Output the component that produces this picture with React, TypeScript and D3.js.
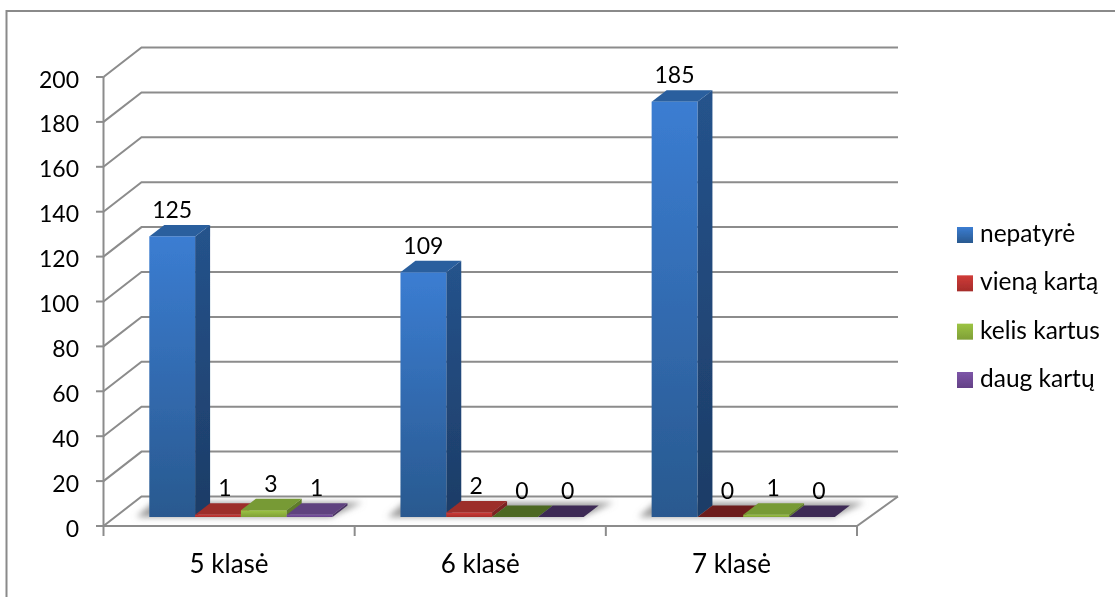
import * as d3 from "d3";

const categories = ["5 klasė", "6 klasė", "7 klasė"];
const seriesNames = ["nepatyrė", "vieną kartą", "kelis kartus", "daug kartų"];
const nepatyre = [125, 109, 185];
const vienaKarta = [1, 2, 0];
const kelisKartus = [3, 0, 1];
const daugKartu = [1, 0, 0];
const seriesValues = [nepatyre, vienaKarta, kelisKartus, daugKartu];
const yTicks = [0, 20, 40, 60, 80, 100, 120, 140, 160, 180, 200];

// front, bottom of front, top face, side face, top face when the value is 0
const palette = [
  { hi: "#3b7dd2", lo: "#29598f", top: "#2a5f9e", sideHi: "#25538c", sideLo: "#1d3c66", flat: "#2a5f9e" },
  { hi: "#d03c38", lo: "#a52c2a", top: "#9c2d2a", sideHi: "#7c2320", sideLo: "#7c2320", flat: "#6d1f1c" },
  { hi: "#9cc444", lo: "#7f9f36", top: "#779a34", sideHi: "#5f7c2a", sideLo: "#5f7c2a", flat: "#4d6824" },
  { hi: "#7d55a8", lo: "#644186", top: "#5f427f", sideHi: "#4a3364", sideLo: "#4a3364", flat: "#3c2a55" },
];

const FONT = "Lato, 'Open Sans', sans-serif";
const DX = 38;
const DY = 29.5;
const BAR_DX = 15;
const BAR_DY = 11.5;

export default function App() {
  const y = d3.scaleLinear().domain([0, 200]).range([526, 77]);
  const x = d3.scaleBand().domain(categories).range([103.5, 857]);
  const inner = d3.scaleBand().domain(seriesNames).range([45.8, 229]);
  // bars stand a little behind the front edge of the floor
  const barBase = y(0) - 9;
  const h = (v: number) => y(0) - y(v);

  const poly = (pts: [number, number][]) => d3.line()(pts) + "Z";

  return (
    <svg width={1115} height={597} style={{ position: "fixed", left: 0, top: 0, background: "#fff" }} fontFamily={FONT}>
      <defs>
        <filter id="soft" x="-5%" y="-5%" width="110%" height="110%">
          <feGaussianBlur stdDeviation="0.45" />
        </filter>
        <filter id="shadow" x="-10%" y="-60%" width="120%" height="220%">
          <feGaussianBlur stdDeviation="3" />
        </filter>
        {palette.map((p, i) => (
          <g key={i}>
            <linearGradient id={`front${i}`} x1="0" x2="0" y1="0" y2="1">
              <stop offset="0" stopColor={p.hi} />
              <stop offset="1" stopColor={p.lo} />
            </linearGradient>
            <linearGradient id={`side${i}`} x1="0" x2="0" y1="0" y2="1">
              <stop offset="0" stopColor={p.sideHi} />
              <stop offset="1" stopColor={p.sideLo} />
            </linearGradient>
            <linearGradient id={`key${i}`} x1="0" x2="0" y1="0" y2="1">
              <stop offset="0" stopColor={p.hi} />
              <stop offset="1" stopColor={p.lo} />
            </linearGradient>
          </g>
        ))}
      </defs>

      {/* outer frame: only the left and top edges fall inside the picture */}
      <path d="M6.5,597V11H1115" fill="none" stroke="#8a8a8a" strokeWidth={2} />

      <g filter="url(#soft)">
        {/* walls */}
        <g stroke="#8c8c8c" strokeWidth={2} fill="none">
          {yTicks.map((t) => (
            <path
              key={t}
              d={d3.line()([
                [103.5, y(t)],
                [103.5 + DX, y(t) - DY],
                [898, y(t) - DY],
              ]) as string}
            />
          ))}
          <path d={`M103.5,${y(200)}V${y(0)}H857L898,${y(0) - DY}`} />
          {yTicks.map((t) => (
            <path key={t} d={`M96,${y(t)}H103.5`} />
          ))}
          {[...categories.map((c) => x(c) as number), 857].map((v) => (
            <path key={v} d={`M${v},${y(0)}V536`} />
          ))}
        </g>

        {/* floor shadow */}
        {categories.map((c) => {
          const x0 = (x(c) as number) + inner.range()[0];
          const x1 = x0 + inner.step() * 4;
          return (
            <path
              key={c}
              filter="url(#shadow)"
              fill="#9a9a9a"
              d={poly([
                [x0 - 13, barBase],
                [x1 - 2, barBase],
                [x1 + BAR_DX + 15, barBase - BAR_DY - 3],
                [x0 + 4, barBase - BAR_DY - 3],
              ])}
            />
          );
        })}

        {/* bars */}
        {categories.map((c, ci) =>
          seriesNames.map((s, si) => {
            const v = seriesValues[si][ci];
            const bx = (x(c) as number) + (inner(s) as number);
            const w = inner.bandwidth();
            const top = barBase - h(v);
            const p = palette[si];
            return (
              <g key={s}>
                <path
                  fill={`url(#side${si})`}
                  d={poly([
                    [bx + w, top],
                    [bx + w + BAR_DX, top - BAR_DY],
                    [bx + w + BAR_DX, barBase - BAR_DY],
                    [bx + w, barBase],
                  ])}
                />
                <path
                  fill={v === 0 ? p.flat : p.top}
                  d={poly([
                    [bx, top],
                    [bx + BAR_DX, top - BAR_DY],
                    [bx + w + BAR_DX, top - BAR_DY],
                    [bx + w, top],
                  ])}
                />
                {v > 0 && <rect x={bx} y={top} width={w} height={barBase - top} fill={`url(#front${si})`} />}
              </g>
            );
          })
        )}

        {/* value labels */}
        <g fontSize={23} fill="#000" textAnchor="middle">
          {categories.map((c, ci) =>
            seriesNames.map((s, si) => {
              const v = seriesValues[si][ci];
              const bx = (x(c) as number) + (inner(s) as number) + inner.bandwidth() / 2;
              return (
                <text key={s} x={bx + (si === 0 ? 0 : 7)} y={barBase - h(v) - BAR_DY - 7}>
                  {v}
                </text>
              );
            })
          )}
        </g>

        {/* y axis labels */}
        <g fontSize={23} fill="#000" textAnchor="end">
          {yTicks.map((t) => (
            <text key={t} x={79} y={y(t) + 10.5}>
              {t}
            </text>
          ))}
        </g>

        {/* category labels */}
        <g fontSize={26} fill="#000" textAnchor="middle">
          {categories.map((c) => (
            <text key={c} x={(x(c) as number) + x.bandwidth() / 2} y={573}>
              {c}
            </text>
          ))}
        </g>

        {/* legend */}
        {seriesNames.map((s, i) => {
          const ly = d3.scalePoint().domain(seriesNames).range([235, 380])(s) as number;
          return (
            <g key={s}>
              <rect x={957} y={ly - 8} width={16} height={16} fill={`url(#key${i})`} />
              <text x={980} y={ly + 7} fontSize={24.5} fill="#000">
                {s}
              </text>
            </g>
          );
        })}
      </g>
    </svg>
  );
}
